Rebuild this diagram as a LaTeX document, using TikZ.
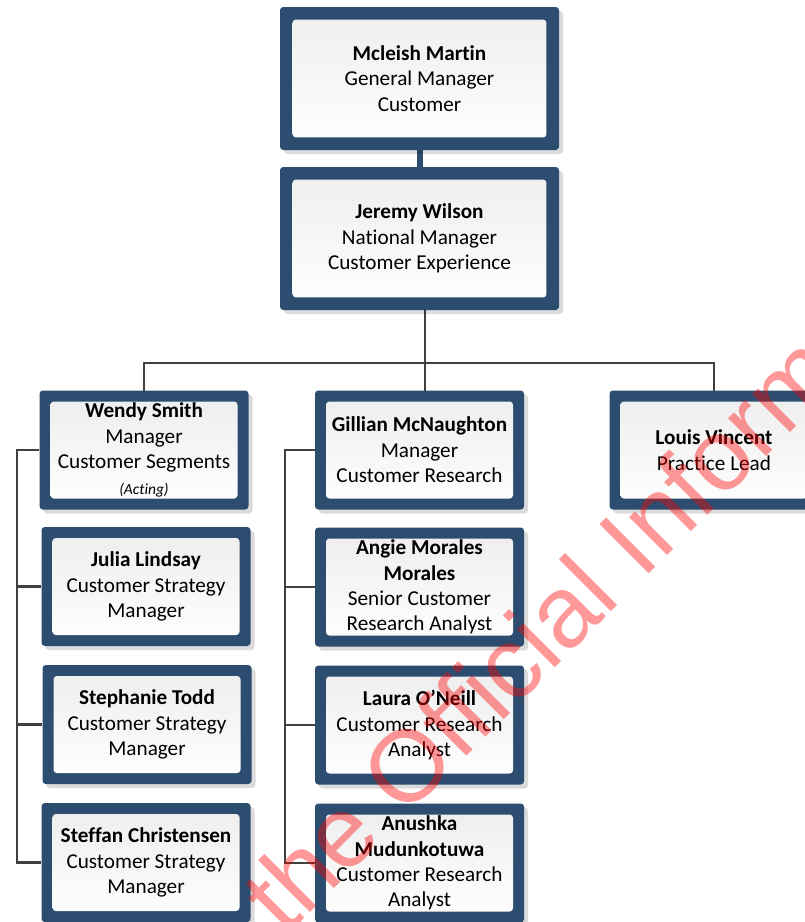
\documentclass[tikz,border=0pt]{standalone}
\usepackage{fontspec}
\setmainfont{Carlito}[Ligatures=NoCommon]
\newfontfamily\wmfont{Liberation Sans}
\usetikzlibrary{shadows,backgrounds}
\definecolor{bdr}{RGB}{44,77,111}
\definecolor{conncol}{RGB}{64,64,64}
\tikzset{
  orgbox/.style={rectangle, inner sep=0pt, fill=bdr, rounded corners=2.5pt, align=center,
    font=\fontsize{15.9}{19.1}\selectfont,
    drop shadow={shadow xshift=3pt, shadow yshift=-3pt, fill=black, opacity=0.14},
    path picture={\shade[top color=black!7, bottom color=white]
      ([xshift=#1, yshift=-#1]path picture bounding box.north west) rectangle
      ([xshift=-#1, yshift=#1]path picture bounding box.south east);}},
  bigbox/.style={orgbox=9.4pt, minimum width=209.25pt, minimum height=107.25pt},
  smallbox/.style={orgbox=8.25pt, minimum width=156.75pt, minimum height=89.25pt},
  conn/.style={draw=conncol, line width=2pt},
  topconn/.style={draw=bdr, line width=4.5pt},
  watermark/.style={rotate=45, anchor=base west, inner sep=0pt, text=red, text opacity=0.4,
    font=\wmfont\fontsize{76}{76}\selectfont}
}
\begin{document}
\begin{tikzpicture}[x=0.75pt, y=-0.75pt]
\path[use as bounding box, clip] (0,0) rectangle (805,922);
% bus coordinates
\coordinate (hbus) at (425,363);
\coordinate (lbus) at (17,450);
\coordinate (mbus) at (285,450);
% boxes
\node[bigbox] (mcleish) at (419.5,78.5) {\textbf{Mcleish Martin}\\General Manager\\Customer};
\node[bigbox] (jeremy) at (419.5,238.5) {\textbf{Jeremy Wilson}\\National Manager\\Customer Experience};
\node[smallbox] (wendy) at (144,450) {\textbf{Wendy Smith}\\Manager\\Customer Segments\\{\fontsize{11.6}{17}\selectfont\itshape (Acting)}};
\node[smallbox] (gillian) at (419.5,450) {\textbf{Gillian McNaughton}\\Manager\\Customer Research};
\node[smallbox] (louis) at (714,450) {\textbf{Louis Vincent}\\Practice Lead};
\node[smallbox] (julia) at (146,586.5) {\textbf{Julia Lindsay}\\Customer Strategy\\Manager};
\node[smallbox] (stephanie) at (147,724.5) {\textbf{Stephanie Todd}\\Customer Strategy\\Manager};
\node[smallbox] (steffan) at (146,862.5) {\textbf{Steffan Christensen}\\Customer Strategy\\Manager};
\node[smallbox] (angie) at (419.5,587) {\textbf{Angie Morales}\\\textbf{Morales}\\Senior Customer\\Research Analyst};
\node[smallbox] (laura) at (419.5,725) {\textbf{Laura O’Neill}\\Customer Research\\Analyst};
\node[smallbox] (anushka) at (419.5,863) {\textbf{Anushka}\\\textbf{Mudunkotuwa}\\Customer Research\\Analyst};
% connectors, beneath the boxes
\begin{scope}[on background layer]
\fill[white] (0,0) rectangle (805,922);
\draw[topconn] (mcleish.south) -- (jeremy.north);
\draw[conn] ([xshift=4pt]jeremy.south) -- ([xshift=4pt]jeremy.south |- gillian.center);
\draw[conn] (wendy.center) |- (hbus) -| (louis.center);
\draw[conn] (wendy.west) -- (wendy.west -| lbus) |- (steffan.west);
\draw[conn] (julia.west) -- (julia.west -| lbus);
\draw[conn] (stephanie.west) -- (stephanie.west -| lbus);
\draw[conn] (gillian.west) -- (gillian.west -| mbus) |- (anushka.west);
\draw[conn] (angie.west) -- (angie.west -| mbus);
\draw[conn] (laura.west) -- (laura.west -| mbus);
\end{scope}
% watermark
\node[watermark] (wm) at (285,938) {the Official Inform};
\end{tikzpicture}
\end{document}
